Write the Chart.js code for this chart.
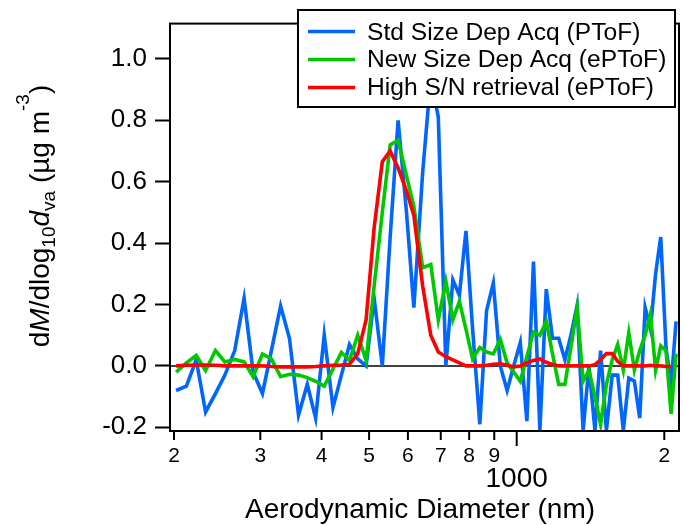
<!DOCTYPE html>
<html>
<head>
<meta charset="utf-8">
<title>Size distribution</title>
<script src="https://cdn.jsdelivr.net/npm/chart.js@4.4.1/dist/chart.umd.min.js"></script>
<style>
  html, body { margin: 0; padding: 0; background: #fff; }
  canvas { display: block; }
</style>
</head>
<body>
<canvas id="sizeDistChart" width="683" height="525"></canvas>
<script>
// bin centres, aerodynamic diameter (nm)
const diameters = [202, 212, 222, 232, 243, 254, 266, 278, 290, 303,
    316, 330, 344, 359, 374, 389, 405, 422, 439, 456,
    474, 493, 512, 532, 552, 573, 596, 617, 643, 668,
    692, 717, 741, 764, 788, 813, 841, 868, 896, 926,
    956, 986, 1017, 1049, 1082, 1115, 1149, 1183, 1218, 1254,
    1290, 1328, 1366, 1404, 1444, 1483, 1524, 1566, 1607, 1650,
    1693, 1738, 1782, 1828, 1874, 1920, 1967, 2016, 2065, 2114]

// dM/dlog10dva, ug m-3
const stdSizeDepAcq = [-0.08, -0.066, 0.02, -0.15, -0.09, -0.03, 0.05, 0.22, -0.02, -0.09,
    0.05, 0.195, 0.09, -0.16, -0.06, -0.17, 0.10, -0.135, -0.03, 0.07,
    0.023, 0.0, 0.22, 0.0, 0.42, 0.80, 0.50, 0.19, 0.63, 0.94,
    0.81, 0.0, 0.28, 0.23, 0.44, 0.12, -0.19, 0.18, 0.27, 0.0,
    -0.08, 0.0, 0.076, -0.18, 0.34, -0.21, 0.25, 0.09, 0.09, 0.02,
    0.10, 0.197, -0.21, 0.0, -0.21, 0.05, -0.21, -0.03, -0.03, -0.21,
    -0.04, -0.05, -0.17, 0.19, 0.12, 0.30, 0.42, 0.06, -0.06, 0.145]

const newSizeDepAcq = [-0.02, 0.01, 0.034, -0.015, 0.05, 0.013, 0.021, 0.013, -0.035, 0.039,
    0.023, -0.035, -0.027, -0.03, -0.038, -0.05, -0.066, -0.01, 0.044, 0.018,
    0.10, 0.018, 0.26, 0.50, 0.72, 0.735, 0.62, 0.52, 0.32, 0.33,
    0.15, 0.276, 0.15, 0.21, 0.12, 0.023, 0.06, 0.045, 0.039, 0.086,
    0.01, -0.02, -0.05, 0.03, 0.11, 0.10, 0.145, 0.04, -0.06, -0.06,
    0.06, 0.19, -0.05, -0.014, -0.10, -0.19, -0.06, 0.02, 0.07, -0.014,
    0.108, -0.014, 0.05, 0.10, 0.17, -0.014, 0.065, 0.05, -0.156, 0.04]

const highSNRetrieval = [0.0, 0.002, 0.003, 0.003, 0.002, 0.0, 0.0, 0.0, 0.0, 0.0,
    -0.002, -0.003, -0.003, -0.003, -0.003, -0.002, 0.0, 0.002, 0.003, 0.005,
    0.04, 0.15, 0.45, 0.665, 0.70, 0.645, 0.57, 0.49, 0.26, 0.10,
    0.045, 0.03, 0.02, 0.01, 0.0, 0.0, 0.0, 0.002, 0.005, 0.007,
    0.002, -0.003, 0.0, 0.01, 0.018, 0.023, 0.012, 0.005, 0.0, 0.0,
    0.0, 0.0, 0.0, 0.0, 0.004, 0.02, 0.04, 0.04, 0.015, 0.0,
    0.0, 0.0, 0.0, 0.0, 0.002, 0.0, 0.0, -0.002, -0.002]

const seriesNames = ['Std Size Dep Acq (PToF)', 'New Size Dep Acq (ePToF)', 'High S/N retrieval (ePToF)']
const seriesColors = ['#0066ff', '#00c800', '#ff0000']

const xTickValues = [200, 300, 400, 500, 600, 700, 800, 900, 1000, 2000]
const xTickLabels = ['2', '3', '4', '5', '6', '7', '8', '9', '1000', '2']
const yTickValues = [-0.2, 0.0, 0.2, 0.4, 0.6, 0.8, 1.0]

const FONT = "'Liberation Sans', Arial, sans-serif"

function toPoints(xs, ys) {
    let pts = []
    for (let i = 0; i < ys.length; i++) {
        pts.push({ x: xs[i], y: ys[i] })
    }
    return pts
}

// y title has italics, subscripts and a superscript, so it is drawn by hand
const yTitleParts = [
    { t: 'd' }, { t: 'M', italic: true }, { t: '/dlog' }, { t: '10', sub: true },
    { t: 'd', italic: true }, { t: 'va', sub: true }, { t: ' (\u00b5g m' }, { t: '-3', sup: true }, { t: ')' }
]

function partFont(p, size) {
    let s = (p.sub || p.sup) ? Math.round(size * 0.68) : size
    return (p.italic ? 'italic ' : '') + s + 'px ' + FONT
}

function drawRichText(ctx, parts, size) {
    let total = 0
    for (let i = 0; i < parts.length; i++) {
        ctx.font = partFont(parts[i], size)
        total += ctx.measureText(parts[i].t).width
    }
    let x = -total / 2
    for (let i = 0; i < parts.length; i++) {
        let p = parts[i]
        ctx.font = partFont(p, size)
        let shift = 0
        if (p.sub) shift = size * 0.2
        if (p.sup) shift = -size * 0.72
        ctx.fillText(p.t, x, shift)
        x += ctx.measureText(p.t).width
    }
}

const igorDecor = {
    id: 'igorDecor',
    beforeDatasetsDraw(chart) {
        const { ctx, chartArea: a, scales: { y } } = chart
        let y0 = y.getPixelForValue(0)
        ctx.save()
        ctx.strokeStyle = '#000'
        ctx.lineWidth = 1.5
        ctx.beginPath()
        ctx.moveTo(a.left, y0)
        ctx.lineTo(a.right, y0)
        ctx.stroke()
        ctx.restore()
    },
    afterDatasetsDraw(chart) {
        const { ctx, chartArea: a, scales: { x } } = chart
        ctx.save()
        // frame
        ctx.strokeStyle = '#000'
        ctx.lineWidth = 2
        ctx.strokeRect(a.left, a.top, a.right - a.left, a.bottom - a.top)

        // bottom axis ticks and labels
        ctx.fillStyle = '#000'
        ctx.textAlign = 'center'
        ctx.textBaseline = 'alphabetic'
        for (let i = 0; i < xTickValues.length; i++) {
            let px = x.getPixelForValue(xTickValues[i])
            let major = xTickValues[i] === 1000
            ctx.beginPath()
            ctx.moveTo(px, a.bottom + 1)
            ctx.lineTo(px, a.bottom + (major ? 15 : 9))
            ctx.stroke()
            if (major) {
                ctx.font = '28px ' + FONT
                ctx.fillText(xTickLabels[i], px, a.bottom + 56)
            } else {
                ctx.font = '21px ' + FONT
                ctx.fillText(xTickLabels[i], px, a.bottom + 31)
            }
        }

        // axis titles
        ctx.font = '28px ' + FONT
        ctx.fillText('Aerodynamic Diameter (nm)', 420, 518)

        ctx.save()
        ctx.translate(49, 216)
        ctx.rotate(-Math.PI / 2)
        ctx.textAlign = 'left'
        drawRichText(ctx, yTitleParts, 28)
        ctx.restore()

        // legend box inside the plot
        let bx = 298, by = 10, bw = 377, bh = 97
        ctx.fillStyle = '#fff'
        ctx.fillRect(bx, by, bw, bh)
        ctx.lineWidth = 2
        ctx.strokeStyle = '#000'
        ctx.strokeRect(bx, by, bw, bh)
        ctx.textAlign = 'left'
        ctx.font = '24.6px ' + FONT
        for (let i = 0; i < chart.data.datasets.length; i++) {
            let ds = chart.data.datasets[i]
            let ly = 31.5 + i * 28
            ctx.strokeStyle = ds.borderColor
            ctx.lineWidth = 3.6
            ctx.beginPath()
            ctx.moveTo(308, ly)
            ctx.lineTo(355, ly)
            ctx.stroke()
            ctx.fillStyle = '#000'
            ctx.fillText(ds.label, 367, 39.5 + i * 27.6)
        }
        ctx.restore()
    }
}

const datasets = [
    { label: seriesNames[0], data: toPoints(diameters, stdSizeDepAcq), borderColor: seriesColors[0], order: 2 },
    { label: seriesNames[1], data: toPoints(diameters, newSizeDepAcq), borderColor: seriesColors[1], order: 1 },
    { label: seriesNames[2], data: toPoints(diameters, highSNRetrieval), borderColor: seriesColors[2], order: 0 }
]
for (let i = 0; i < datasets.length; i++) {
    datasets[i].borderWidth = 3.6
    datasets[i].pointRadius = 0
    datasets[i].tension = 0
    datasets[i].fill = false
    datasets[i].clip = 0
}

new Chart(document.getElementById('sizeDistChart'), {
    type: 'line',
    data: { datasets: datasets },
    plugins: [igorDecor],
    options: {
        responsive: false,
        animation: false,
        layout: { padding: { top: 12, right: 4, left: 0, bottom: 0 } },
        plugins: { legend: { display: false }, tooltip: { enabled: false } },
        scales: {
            x: {
                type: 'logarithmic',
                min: 196.3,
                max: 2143,
                afterBuildTicks: (s) => { s.ticks = xTickValues.map(v => ({ value: v })) },
                afterFit: (s) => { s.height = 94 },
                ticks: { display: false },
                grid: { display: false },
                border: { display: false }
            },
            y: {
                type: 'linear',
                min: -0.212,
                max: 1.115,
                afterBuildTicks: (s) => { s.ticks = yTickValues.map(v => ({ value: v })) },
                afterFit: (s) => { s.width = 170 },
                ticks: {
                    color: '#000',
                    padding: 8,
                    font: { family: FONT, size: 26 },
                    callback: (v) => Number(v).toFixed(1)
                },
                grid: {
                    drawOnChartArea: false,
                    drawTicks: true,
                    tickLength: 15,
                    tickWidth: 2,
                    tickColor: '#000'
                },
                border: { display: false }
            }
        }
    }
})
</script>
</body>
</html>
